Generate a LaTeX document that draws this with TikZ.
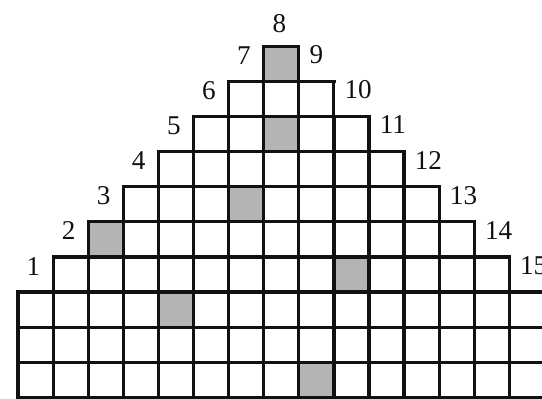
\documentclass[tikz,border=0pt]{standalone}
\usepackage{fontspec}
\setmainfont{Liberation Serif}
\usetikzlibrary{positioning, calc}
\definecolor{ink}{HTML}{111111}
\definecolor{tile}{HTML}{B4B4B4}

\tikzset{
  cellline/.style={ink, line width=2.6pt, line cap=rect},
  numlbl/.style={text=ink, inner sep=0pt, font=\fontsize{22}{26}\selectfont}
}

\begin{document}
\begin{tikzpicture}[x=1cm, y=1cm]

% Page frame (same proportions as the scan)
\clip (-0.513,-0.02) rectangle (14.929,11.32);
\fill[white] (-0.513,-0.02) rectangle (14.929,11.32);

% --- Shaded tiles ---
\foreach \c/\y in {7/9, 7/7, 6/5, 2/4, 9/3, 4/2, 8/0}
  \fill[tile] (\c,\y) rectangle ++(1,1);

% --- Base rows (run off the right edge) ---
\draw[cellline, step=1] (0,0) grid (16,3);

% --- Stepped rows with corner numbers ---
\foreach \r in {1,...,7} {
  \pgfmathtruncatemacro{\lo}{8-\r}
  \pgfmathtruncatemacro{\hi}{7+\r}
  \pgfmathtruncatemacro{\yb}{10-\r}
  \pgfmathtruncatemacro{\nl}{8-\r}
  \pgfmathtruncatemacro{\nr}{8+\r}
  \draw[cellline, step=1] (\lo,\yb) grid (\hi,\yb+1);
  \coordinate (tl\r) at (\lo,\yb+1);
  \coordinate (tr\r) at (\hi,\yb+1);
  \node[numlbl, anchor=east] (n\nl) at ($(tl\r)+(-0.36,-0.26)$) {\nl};
  \node[numlbl, anchor=west] (n\nr) at ($(tr\r)+(0.3,-0.24)$) {\nr};
}

% Top number
\node[numlbl] (n8) at ($(tl1)+(0.45,0.66)$) {8};

\end{tikzpicture}
\end{document}
